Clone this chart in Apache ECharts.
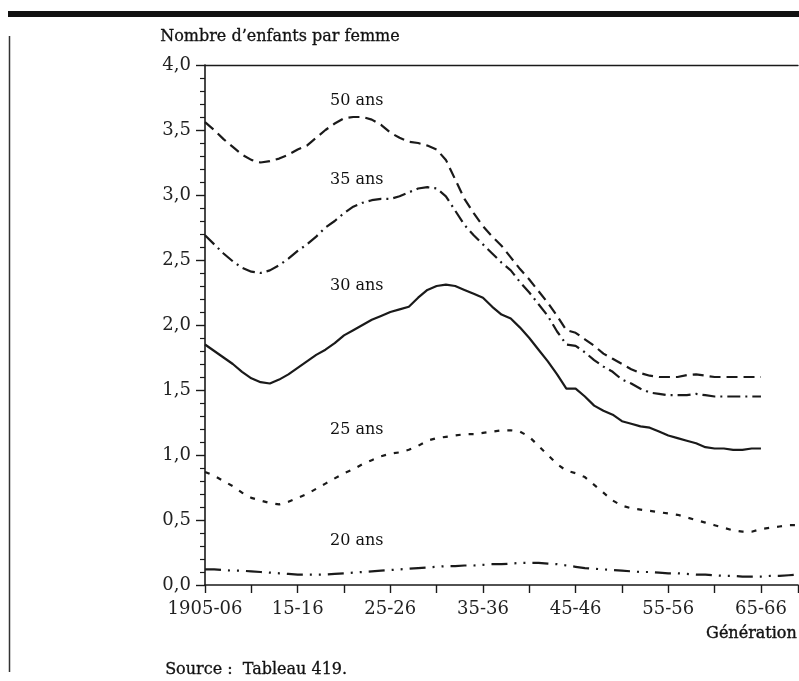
<!DOCTYPE html>
<html>
<head>
<meta charset="UTF-8">
<style>
  html, body { margin: 0; padding: 0; background: #fff; }
  #chart { width: 799px; height: 681px; }
</style>
</head>
<body>
<div id="chart"></div>
<script src="https://cdn.jsdelivr.net/npm/echarts@6/dist/echarts.min.js"></script>
<script>
// generations (first year of the pair, e.g. 1905 = "1905-06")
var years = [1905,1906,1907,1908,1909,1910,1911,1912,1913,1914,
             1915,1916,1917,1918,1919,1920,1921,1922,1923,1924,
             1925,1926,1927,1928,1929,1930,1931,1932,1933,1934,
             1935,1936,1937,1938,1939,1940,1941,1942,1943,1944,
             1945,1946,1947,1948,1949,1950,1951,1952,1953,1954,
             1955,1956,1957,1958,1959,1960,1961,1962,1963,1964,
             1965,1966,1967,1968,1969];

// cumulative children per woman reached at a given age
var ans50 = [3.56,3.50,3.43,3.37,3.31,3.27,3.25,3.26,3.28,3.31,
             3.35,3.38,3.44,3.50,3.55,3.59,3.60,3.60,3.58,3.54,
             3.48,3.44,3.41,3.40,3.38,3.35,3.27,3.12,2.97,2.86,
             2.76,2.68,2.61,2.52,2.43,2.35,2.26,2.17,2.07,1.96,
             1.94,1.89,1.84,1.78,1.74,1.70,1.66,1.63,1.61,1.60,
             1.60,1.60,1.615,1.62,1.61,1.60,1.60,1.60,1.60,1.60,
             1.60];
var ans35 = [2.69,2.62,2.55,2.49,2.44,2.41,2.40,2.42,2.46,2.51,
             2.57,2.62,2.68,2.75,2.80,2.86,2.91,2.94,2.96,2.97,
             2.97,2.99,3.02,3.05,3.06,3.05,2.99,2.88,2.77,2.69,
             2.62,2.55,2.48,2.42,2.33,2.25,2.16,2.07,1.95,1.85,
             1.84,1.79,1.73,1.68,1.64,1.58,1.55,1.51,1.48,1.47,
             1.46,1.46,1.46,1.47,1.46,1.45,1.45,1.45,1.45,1.45,
             1.45];
var ans30 = [1.85,1.80,1.75,1.70,1.64,1.59,1.56,1.55,1.58,1.62,
             1.67,1.72,1.77,1.81,1.86,1.92,1.96,2.00,2.04,2.07,
             2.10,2.12,2.14,2.21,2.27,2.30,2.31,2.30,2.27,2.24,
             2.21,2.14,2.08,2.05,1.98,1.90,1.81,1.72,1.62,1.51,
             1.51,1.45,1.38,1.34,1.31,1.26,1.24,1.22,1.21,1.18,
             1.15,1.13,1.11,1.09,1.06,1.05,1.05,1.04,1.04,1.05,
             1.05];
var ans25 = [0.87,0.84,0.80,0.76,0.71,0.67,0.65,0.63,0.62,0.64,
             0.67,0.70,0.74,0.78,0.82,0.86,0.89,0.93,0.96,0.99,
             1.01,1.02,1.04,1.07,1.11,1.13,1.14,1.15,1.16,1.16,
             1.17,1.18,1.19,1.19,1.18,1.14,1.07,1.00,0.93,0.88,
             0.86,0.83,0.77,0.71,0.65,0.61,0.59,0.58,0.57,0.56,
             0.55,0.54,0.52,0.50,0.48,0.46,0.44,0.42,0.41,0.41,
             0.43,0.44,0.45,0.46,0.46];
var ans20 = [0.12,0.12,0.115,0.11,0.11,0.105,0.10,0.095,0.09,0.085,
             0.08,0.08,0.08,0.08,0.085,0.09,0.095,0.10,0.105,0.11,
             0.115,0.12,0.125,0.13,0.135,0.14,0.145,0.145,0.15,0.15,
             0.155,0.16,0.16,0.165,0.17,0.17,0.17,0.165,0.16,0.15,
             0.14,0.13,0.125,0.12,0.115,0.11,0.105,0.10,0.10,0.095,
             0.09,0.09,0.085,0.08,0.08,0.075,0.07,0.07,0.065,0.065,
             0.065,0.07,0.07,0.075,0.08];

var seriesNames = ['50 ans', '35 ans', '30 ans', '25 ans', '20 ans'];

function pairs(vals) {
    return vals.map(function (v, i) { return [years[i], v]; });
}
function pad(n) { return (n < 10 ? '0' : '') + n; }

var INK = '#1a1a1a';
var FONT = 'DejaVu Serif';

var myChart = echarts.init(document.getElementById('chart'));

var lineDefs = [
    { data: ans50, dash: [11, 6] },
    { data: ans35, dash: [13, 5, 2, 5] },
    { data: ans30, dash: 'solid' },
    { data: ans25, dash: [5, 8] },
    { data: ans20, dash: [16, 7, 2, 7, 2, 7] }
];

var series = lineDefs.map(function (d, i) {
    return {
        name: seriesNames[i],
        type: 'line',
        data: pairs(d.data),
        showSymbol: false,
        symbol: 'none',
        lineStyle: { color: INK, width: 2.2, type: d.dash },
        z: 3
    };
});

// series names written next to each curve
var nameTops = [93, 172, 278, 422, 533];

var option = {
    animation: false,
    backgroundColor: '#fff',
    grid: {
        left: 205, width: 593, top: 65, height: 520,
        containLabel: false, outerBoundsMode: 'none'
    },
    xAxis: [{
        type: 'value',
        min: 1905, max: 1969, interval: 5,
        position: 'bottom',
        axisLine: { show: true, onZero: false, lineStyle: { color: INK, width: 1.6 } },
        axisTick: { show: true, length: 8, lineStyle: { color: INK, width: 1.4 } },
        splitLine: { show: false },
        axisLabel: {
            margin: 15,
            color: '#222', fontFamily: FONT, fontSize: 18,
            formatter: function (v) {
                if ((v - 1905) % 10 !== 0) return '';
                if (v === 1905) return '1905-06';
                return pad(v % 100) + '-' + pad((v + 1) % 100);
            }
        }
    }, {
        // top border line
        type: 'value',
        min: 1905, max: 1969,
        position: 'top',
        axisLine: { show: true, onZero: false, lineStyle: { color: INK, width: 1.4 } },
        axisTick: { show: false },
        axisLabel: { show: false },
        splitLine: { show: false }
    }],
    yAxis: {
        type: 'value',
        min: 0, max: 4, interval: 0.5,
        axisLine: { show: true, onZero: false, lineStyle: { color: INK, width: 1.6 } },
        axisTick: { show: true, length: 9, lineStyle: { color: INK, width: 1.4 } },
        minorTick: { show: true, splitNumber: 5, length: 5, lineStyle: { color: INK, width: 1.2 } },
        splitLine: { show: false },
        minorSplitLine: { show: false },
        axisLabel: {
            margin: 14,
            color: '#222', fontFamily: FONT, fontSize: 18,
            formatter: function (v) { return v.toFixed(1).replace('.', ','); }
        }
    },
    series: series,
    graphic: [
        { type: 'rect', shape: { x: 8, y: 11, width: 791, height: 6 }, style: { fill: '#111' } },
        { type: 'line', shape: { x1: 9.5, y1: 36, x2: 9.5, y2: 672 }, style: { stroke: '#333', lineWidth: 1.5 } },
        { type: 'text', left: 160, top: 29,
          style: { text: 'Nombre d\u2019enfants par femme', fill: '#111', font: '16px "DejaVu Serif"',
                   stroke: '#111', lineWidth: 0.3 } },
        { type: 'text', right: 2, top: 626,
          style: { text: 'Génération', fill: '#111', font: '16px "DejaVu Serif"',
                   stroke: '#111', lineWidth: 0.4 } },
        { type: 'text', left: 165, top: 662,
          style: { text: 'Source :  Tableau 419.', fill: '#111', font: '16px "DejaVu Serif"',
                   stroke: '#111', lineWidth: 0.3 } }
    ].concat(seriesNames.map(function (name, i) {
        return { type: 'text', left: 330, top: nameTops[i],
                 style: { text: name, fill: '#111', font: '16px "DejaVu Serif"' } };
    }))
};

myChart.setOption(option);
</script>
</body>
</html>
